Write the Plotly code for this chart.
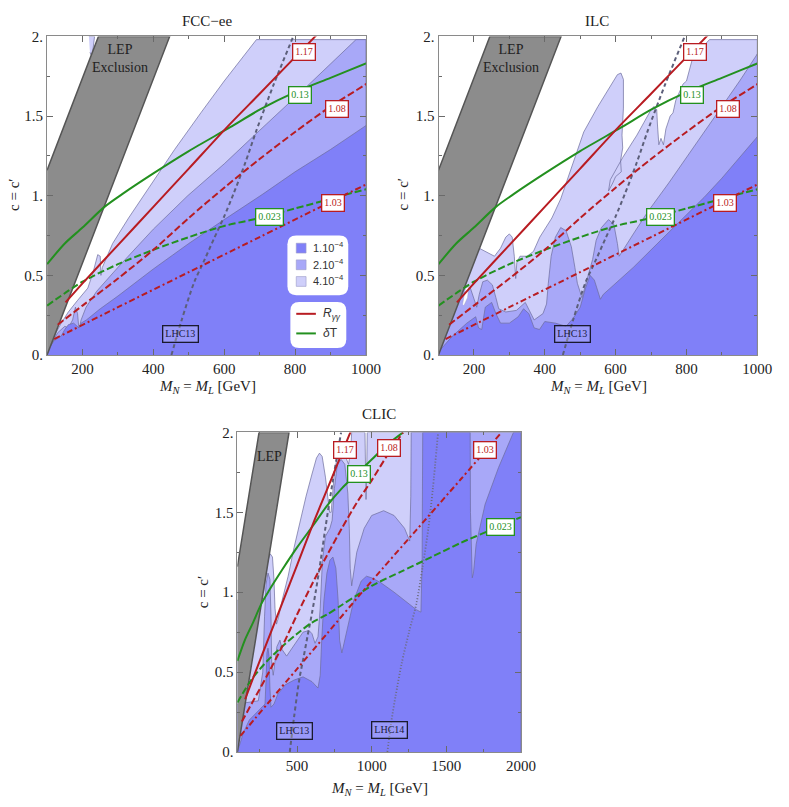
import plotly.graph_objects as go

W, H = 789, 807

# ---------------- contour regions (M_N = M_L in GeV, c = c') ----------------
# FCC-ee
fcc_light_x = [100, 118, 125, 140, 160, 185, 215, 230, 243, 250, 252, 256, 265, 285, 330, 375, 460, 534, 600, 691, 1000, 1000]
fcc_light_y = [0.0, 0.10, 0.14, 0.20, 0.27, 0.34, 0.42, 0.52, 0.63, 0.62, 0.50, 0.55, 0.60, 0.70, 0.86, 1.01, 1.29, 1.52, 1.72, 1.98, 1.98, 0.0]
fcc_med_x = [100, 115, 130, 150, 160, 172, 180, 186, 190, 196, 210, 240, 300, 400, 497, 600, 700, 840, 972, 1000, 1000]
fcc_med_y = [0.0, 0.08, 0.14, 0.18, 0.17, 0.22, 0.30, 0.26, 0.16, 0.22, 0.30, 0.40, 0.55, 0.79, 1.00, 1.20, 1.41, 1.70, 1.98, 1.98, 0.0]
fcc_dark_x = [100, 105, 120, 140, 150, 160, 175, 190, 196, 211, 250, 300, 400, 500, 600, 709, 800, 900, 1000, 1000]
fcc_dark_y = [0.0, 0.04, 0.09, 0.12, 0.16, 0.19, 0.20, 0.17, 0.20, 0.22, 0.29, 0.37, 0.54, 0.70, 0.85, 1.01, 1.15, 1.29, 1.44, 0.0]
fcc_sliver_x = [218, 234, 227, 221]
fcc_sliver_y = [2.0, 2.0, 1.87, 1.90]

# ILC
ilc_light_x = [100, 100, 215, 240, 258, 275, 290, 300, 308, 314, 318, 321, 330, 350, 368, 386, 420, 445, 475,
               510, 550, 585, 605, 615, 622, 622, 618, 620, 614, 616, 600, 592, 584, 580, 585, 600, 620, 640,
               660, 680, 700, 708, 716, 718, 722, 728, 735, 742, 754, 762, 770, 790, 800, 818, 840, 865, 1000, 1000]
ilc_light_y = [0.0, 0.70, 0.67, 0.64, 0.62, 0.67, 0.74, 0.76, 0.74, 0.62, 0.48, 0.58, 0.62, 0.62, 0.65, 0.74, 0.86, 0.98, 1.18,
               1.40, 1.56, 1.69, 1.76, 1.77, 1.73, 1.55, 1.38, 1.30, 1.22, 1.15, 1.12, 1.08, 1.05, 1.03, 1.10, 1.16, 1.24, 1.31,
               1.38, 1.46, 1.54, 1.56, 1.54, 1.45, 1.32, 1.36, 1.32, 1.42, 1.50, 1.52, 1.60, 1.70, 1.72, 1.87, 1.92, 1.98, 1.98, 0.0]
ilc_med_x = [100, 100, 190, 200, 208, 215, 225, 238, 252, 262, 270, 290, 320, 345, 370, 395, 405, 410, 418, 430, 445,
             460, 475, 485, 492, 505, 515, 525, 535, 545, 560, 580, 595, 605, 610, 650, 691, 750, 800, 850, 900, 950, 1000, 1000]
ilc_med_y = [0.0, 0.38, 0.42, 0.36, 0.30, 0.38, 0.46, 0.47, 0.44, 0.36, 0.29, 0.27, 0.28, 0.33, 0.22, 0.26, 0.32, 0.45, 0.62, 0.74, 0.80,
             0.78, 0.68, 0.55, 0.45, 0.36, 0.44, 0.52, 0.60, 0.72, 0.80, 0.85, 0.82, 0.70, 0.62, 0.76, 0.90, 1.08, 1.24, 1.40, 1.56, 1.72, 1.89, 0.0]
ilc_dark_x = [100, 100, 140, 180, 205, 213, 222, 232, 250, 262, 275, 300, 325, 340, 355, 370, 385, 400, 430, 460, 480,
              500, 515, 528, 540, 550, 557, 565, 600, 650, 700, 750, 800, 850, 900, 950, 1000, 1000]
ilc_dark_y = [0.0, 0.02, 0.12, 0.20, 0.24, 0.17, 0.16, 0.30, 0.33, 0.26, 0.20, 0.20, 0.24, 0.29, 0.26, 0.17, 0.16, 0.21, 0.20, 0.18, 0.23,
              0.30, 0.42, 0.50, 0.47, 0.40, 0.35, 0.38, 0.45, 0.55, 0.66, 0.77, 0.88, 0.99, 1.11, 1.24, 1.37, 0.0]
ilc_gap_x = [168, 176, 186, 182, 172]
ilc_gap_y = [0.32, 0.42, 0.43, 0.36, 0.31]

# CLIC
clic_light_x = [100, 100, 275, 290, 305, 320, 335, 345, 352, 362, 375, 400, 440, 480, 520, 560, 600, 630, 650, 668,
                690, 705, 718, 728, 740, 750, 770, 796, 820, 845, 858, 866, 955, 958, 962, 966, 970, 2000, 2000]
clic_light_y = [0.0, 0.95, 1.00, 1.12, 1.20, 1.24, 1.22, 1.08, 0.90, 0.80, 0.84, 0.95, 1.10, 1.28, 1.45, 1.60, 1.74, 1.84, 1.87, 1.85,
                1.72, 1.58, 1.50, 1.50, 1.62, 1.75, 1.85, 1.87, 1.86, 1.80, 1.88, 2.0, 2.0, 1.70, 1.58, 1.70, 2.0, 2.0, 0.0]
clic_med_x = [100, 100, 240, 270, 282, 292, 305, 318, 325, 330, 340, 355, 365, 385, 400, 430, 460, 500, 540, 580, 600,
              620, 640, 655, 670, 690, 705, 720, 735, 750, 770, 796, 820, 840, 850, 856, 866, 900, 950, 1000, 1080,
              1150, 1220, 1255, 1262, 1265, 2000, 2000]
clic_med_y = [0.0, 0.30, 0.32, 0.50, 0.85, 1.05, 1.12, 1.08, 0.85, 0.55, 0.48, 0.58, 0.66, 0.70, 0.64, 0.60, 0.64, 0.70, 0.75, 0.76, 0.74,
              0.68, 0.72, 0.90, 1.20, 1.35, 1.38, 1.40, 1.45, 1.65, 1.80, 1.83, 1.80, 1.62, 1.40, 1.15, 1.04, 1.25, 1.40, 1.48, 1.51,
              1.48, 1.40, 1.32, 1.60, 2.0, 2.0, 0.0]
clic_dark_x = [100, 140, 180, 220, 260, 285, 292, 298, 305, 312, 318, 325, 345, 370, 420, 480, 540, 600, 640, 655, 665,
               680, 700, 720, 740, 760, 775, 785, 800, 840, 880, 930, 965, 1000, 1060, 1150, 1230, 1300, 1330, 1338,
               1342, 1660, 1662, 1668, 1674, 1682, 1700, 1760, 1850, 1950, 2000, 2000]
clic_dark_y = [0.0, 0.12, 0.20, 0.24, 0.28, 0.30, 0.45, 0.62, 0.65, 0.60, 0.40, 0.28, 0.30, 0.36, 0.42, 0.45, 0.47, 0.44, 0.40, 0.48, 0.70,
               0.95, 1.12, 1.20, 1.22, 1.15, 0.95, 0.70, 0.62, 0.78, 0.95, 1.07, 1.10, 1.09, 1.06, 1.00, 0.94, 0.89, 0.875, 1.20,
               2.0, 2.0, 1.50, 1.20, 1.09, 1.12, 1.30, 1.55, 1.78, 2.0, 2.0, 0.0]

# LEP exclusion band (same in all panels)
lep_x = [100, 446, 245, 100]
lep_y = [0.0, 2.0, 2.0, 1.16]

# ---------------- curves ----------------
r117_x = [152, 200, 300, 400, 500, 612, 700, 800, 857, 900]
r117_y = [0.33, 0.45, 0.69, 0.93, 1.17, 1.44, 1.64, 1.87, 2.0, 2.1]
r108_x = [130, 200, 300, 400, 500, 600, 700, 800, 900, 1000, 1100, 1210]
r108_y = [0.19, 0.31, 0.48, 0.66, 0.86, 1.05, 1.23, 1.40, 1.56, 1.70, 1.85, 2.0]
r103_x = [120, 300, 500, 700, 1000, 1300, 1600, 1870]
r103_y = [0.10, 0.30, 0.52, 0.74, 1.07, 1.39, 1.71, 2.0]
t013_x = [100, 150, 200, 262, 312, 400, 500, 617, 700, 800, 900, 1000, 1100, 1210]
t013_y = [0.57, 0.70, 0.80, 0.93, 1.01, 1.14, 1.28, 1.43, 1.54, 1.65, 1.74, 1.83, 1.92, 2.0]
t0023_x = [100, 200, 300, 400, 500, 600, 700, 800, 900, 1000, 1200, 1400, 1600, 1800, 2000]
t0023_y = [0.31, 0.46, 0.57, 0.66, 0.74, 0.81, 0.86, 0.92, 0.98, 1.04, 1.13, 1.22, 1.31, 1.39, 1.47]
lhc13_x = [451, 480, 515, 545, 571, 600, 626, 660, 691, 740, 795]
lhc13_y = [0.0, 0.22, 0.455, 0.60, 0.73, 0.87, 1.01, 1.21, 1.41, 1.70, 2.0]
lhc14_x = [1105, 1130, 1160, 1200, 1250, 1300, 1340, 1380, 1410, 1445]
lhc14_y = [0.0, 0.18, 0.35, 0.55, 0.75, 0.93, 1.15, 1.40, 1.65, 2.0]

# curve labels
labels_top = [("1.17", 825, 1.90, "r"), ("0.13", 815, 1.63, "g"), ("1.08", 917, 1.545, "r"),
              ("1.03", 908, 0.955, "r"), ("0.023", 728, 0.867, "g"), ("LHC13", 478, 0.13, "k")]
labels_clic = [("1.17", 823, 1.89, "r"), ("1.08", 1113, 1.90, "r"), ("1.03", 1761, 1.89, "r"),
               ("0.13", 914, 1.74, "g"), ("0.023", 1864, 1.41, "g"), ("LHC13", 480, 0.13, "k"),
               ("LHC14", 1119, 0.14, "k")]

C_DARK = "#8080f8"
C_MED = "#a8a8f8"
C_LIGHT = "#cfcffa"
EDGE = "#6c6c9c"
RED = "#b81c22"
GREEN = "#23901f"
SERIF = "Liberation Serif"
SANS = "Liberation Sans"

fig = go.Figure()


def poly(x, y, fill, xa, ya, edge=EDGE, width=0.7):
    fig.add_trace(go.Scatter(x=x, y=y, fill="toself", fillcolor=fill, mode="lines",
                             line=dict(color=edge, width=width), hoverinfo="skip",
                             showlegend=False, xaxis=xa, yaxis=ya))


def curve(x, y, color, dash, xa, ya, width=2):
    fig.add_trace(go.Scatter(x=x, y=y, mode="lines",
                             line=dict(color=color, width=width, dash=dash, shape="spline", smoothing=0.8),
                             hoverinfo="skip", showlegend=False, xaxis=xa, yaxis=ya))


panels = [
    ("x", "y", (fcc_light_x, fcc_light_y), (fcc_med_x, fcc_med_y), (fcc_dark_x, fcc_dark_y)),
    ("x2", "y2", (ilc_light_x, ilc_light_y), (ilc_med_x, ilc_med_y), (ilc_dark_x, ilc_dark_y)),
    ("x3", "y3", (clic_light_x, clic_light_y), (clic_med_x, clic_med_y), (clic_dark_x, clic_dark_y)),
]

for xa, ya, lt, md, dk in panels:
    poly(lt[0], lt[1], C_LIGHT, xa, ya)
    poly(md[0], md[1], C_MED, xa, ya)
    poly(dk[0], dk[1], C_DARK, xa, ya)
    if xa == "x":
        poly(fcc_sliver_x, fcc_sliver_y, C_LIGHT, xa, ya)
    if xa == "x2":
        poly(ilc_gap_x, ilc_gap_y, "white", xa, ya, edge="#9a9ac8", width=0.5)
    poly(lep_x, lep_y, "#8c8c8c", xa, ya, edge="#555555", width=1.5)
    curve(lhc13_x, lhc13_y, "#5c5f7a", "4px,3px", xa, ya)
    if xa == "x3":
        curve(lhc14_x, lhc14_y, "#6b6b7b", "1px,2px", xa, ya, width=1.8)
    curve(t0023_x, t0023_y, GREEN, "7px,3px", xa, ya)
    curve(t013_x, t013_y, GREEN, "solid", xa, ya)
    curve(r103_x, r103_y, RED, "6px,3px,2px,3px", xa, ya)
    curve(r108_x, r108_y, RED, "7px,3px", xa, ya)
    curve(r117_x, r117_y, RED, "solid", xa, ya)


def px2paper(px, py):
    return px / W, 1 - py / H


def axis_common():
    return dict(showgrid=False, zeroline=False, showline=True, linecolor="#8a8a8a", linewidth=1,
                mirror="ticks", ticks="inside", ticklen=6, tickcolor="#6a6a6a",
                tickfont=dict(family=SERIF, size=15, color="#222"))


top_y = [1 - 354 / H, 1 - 29 / H]
bot_y = [1 - 759 / H, 1 - 433 / H]
ytickv = [0, 0.5, 1, 1.5, 2]
ytickt = ["0.", "0.5", "1.", "1.5", "2."]
yminor = dict(tickvals=[0.25, 0.75, 1.25, 1.75], ticks="inside", ticklen=3, tickcolor="#6a6a6a")

layout = dict(width=W, height=H, autosize=False, margin=dict(l=0, r=0, t=0, b=0),
              paper_bgcolor="white", plot_bgcolor="white", showlegend=False)
for name, dom, anchor in [("xaxis", [48 / W, 373 / W], "y"), ("xaxis2", [447 / W, 772 / W], "y2")]:
    a = axis_common()
    a.update(domain=dom, anchor=anchor, range=[100, 1000], tickvals=[200, 400, 600, 800, 1000],
             minor=dict(tickvals=[300, 500, 700, 900], ticks="inside", ticklen=3, tickcolor="#6a6a6a"))
    layout[name] = a
a = axis_common()
a.update(domain=[242 / W, 531 / W], anchor="y3", range=[100, 2000], tickvals=[500, 1000, 1500, 2000],
         minor=dict(tickvals=[250, 750, 1250, 1750], ticks="inside", ticklen=3, tickcolor="#6a6a6a"))
layout["xaxis3"] = a
for name, dom, anchor in [("yaxis", top_y, "x"), ("yaxis2", top_y, "x2"), ("yaxis3", bot_y, "x3")]:
    a = axis_common()
    a.update(domain=dom, anchor=anchor, range=[0, 2], tickvals=ytickv, ticktext=ytickt, minor=yminor)
    layout[name] = a
fig.update_layout(**layout)


def paper_text(text, px, py, size=15, family=SERIF, xanchor="center", angle=0, color="#222"):
    x0, y0 = px2paper(px, py)
    return dict(text=text, x=x0, y=y0, xref="paper", yref="paper", showarrow=False,
                xanchor=xanchor, yanchor="middle", textangle=angle,
                font=dict(family=family, size=size, color=color))


ann = []
xt = "<i>M<sub>N</sub></i> = <i>M<sub>L</sub></i> [GeV]"
for title, cx, ty, xy in [("FCC\u2212ee", 211, 13, 387), ("ILC", 609, 13, 387), ("CLIC", 386, 414, 797)]:
    ann.append(paper_text(title, cx, ty))
    ann.append(paper_text(xt, cx + 1, xy))
for cx, cy in [(14, 190), (411, 190), (207, 596)]:
    ann.append(paper_text("c = c\u2032", cx, cy, angle=-90))

for xr, yr in [("x", "y"), ("x2", "y2")]:
    ann.append(dict(text="LEP<br>Exclusion", x=306, y=1.86, xref=xr, yref=yr, showarrow=False,
                    xanchor="center", yanchor="middle",
                    font=dict(family=SERIF, size=14, color="#222")))
ann.append(dict(text="LEP", x=318, y=1.85, xref="x3", yref="y3", showarrow=False,
                xanchor="center", yanchor="middle",
                font=dict(family=SERIF, size=14, color="#222")))

style = {"r": (RED, "white"), "g": (GREEN, "white"), "k": ("#1a1a2e", "rgba(255,255,255,0.2)")}
for lab_list, xr, yr in [(labels_top, "x", "y"), (labels_top, "x2", "y2"), (labels_clic, "x3", "y3")]:
    for txt, lx, ly, kind in lab_list:
        col, bg = style[kind]
        tcol = "#1a1a40" if kind == "k" else col
        ann.append(dict(text=txt, x=lx, y=ly, xref=xr, yref=yr, showarrow=False,
                        xanchor="center", yanchor="middle",
                        font=dict(family=SERIF, size=10, color=tcol), bgcolor=bg,
                        bordercolor=col, borderwidth=1.3, borderpad=2))

# legend boxes inside FCC-ee panel
shapes = []


def rounded(px0, py0, px1, py1, r):
    X0, X1 = px0 / W, px1 / W
    Y0, Y1 = 1 - py1 / H, 1 - py0 / H
    rx, ry = r / W, r / H
    return (f"M {X0 + rx},{Y0} L {X1 - rx},{Y0} Q {X1},{Y0} {X1},{Y0 + ry} L {X1},{Y1 - ry} "
            f"Q {X1},{Y1} {X1 - rx},{Y1} L {X0 + rx},{Y1} Q {X0},{Y1} {X0},{Y1 - ry} "
            f"L {X0},{Y0 + ry} Q {X0},{Y0} {X0 + rx},{Y0} Z")


shapes.append(dict(type="path", path=rounded(293, 232, 355, 293, 9), xref="paper", yref="paper",
                   fillcolor="white", line=dict(color="white", width=0)))
shapes.append(dict(type="path", path=rounded(296, 300, 353, 347, 9), xref="paper", yref="paper",
                   fillcolor="white", line=dict(color="white", width=0)))
legend_items = [(C_DARK, "1.10<sup>\u22124</sup>", 245), (C_MED, "2.10<sup>\u22124</sup>", 262),
                (C_LIGHT, "4.10<sup>\u22124</sup>", 279)]
for col, txt, py in legend_items:
    x0, y0 = px2paper(302, py + 5)
    x1, y1 = px2paper(312, py - 5)
    shapes.append(dict(type="rect", x0=x0, y0=y0, x1=x1, y1=y1, xref="paper", yref="paper",
                       fillcolor=col, line=dict(color="#9a9ac8", width=0.6)))
    ann.append(paper_text(txt, 317, py - 1, size=11, family=SANS, xanchor="left", color="#333"))
for col, txt, py in [(RED, "<i>R<sub>\u03b3\u03b3</sub></i>", 312), (GREEN, "<i>\u03b4</i>T", 332)]:
    x0, y0 = px2paper(302, py)
    x1, _ = px2paper(322, py)
    shapes.append(dict(type="line", x0=x0, y0=y0, x1=x1, y1=y0, xref="paper", yref="paper",
                       line=dict(color=col, width=2)))
    ann.append(paper_text(txt, 327, py, size=12, family=SANS, xanchor="left", color="#333"))

fig.update_layout(annotations=ann, shapes=shapes)
fig.write_html("out.html", config={"displayModeBar": False},
               post_script="document.body.style.margin='0';document.body.style.overflow='hidden';")
